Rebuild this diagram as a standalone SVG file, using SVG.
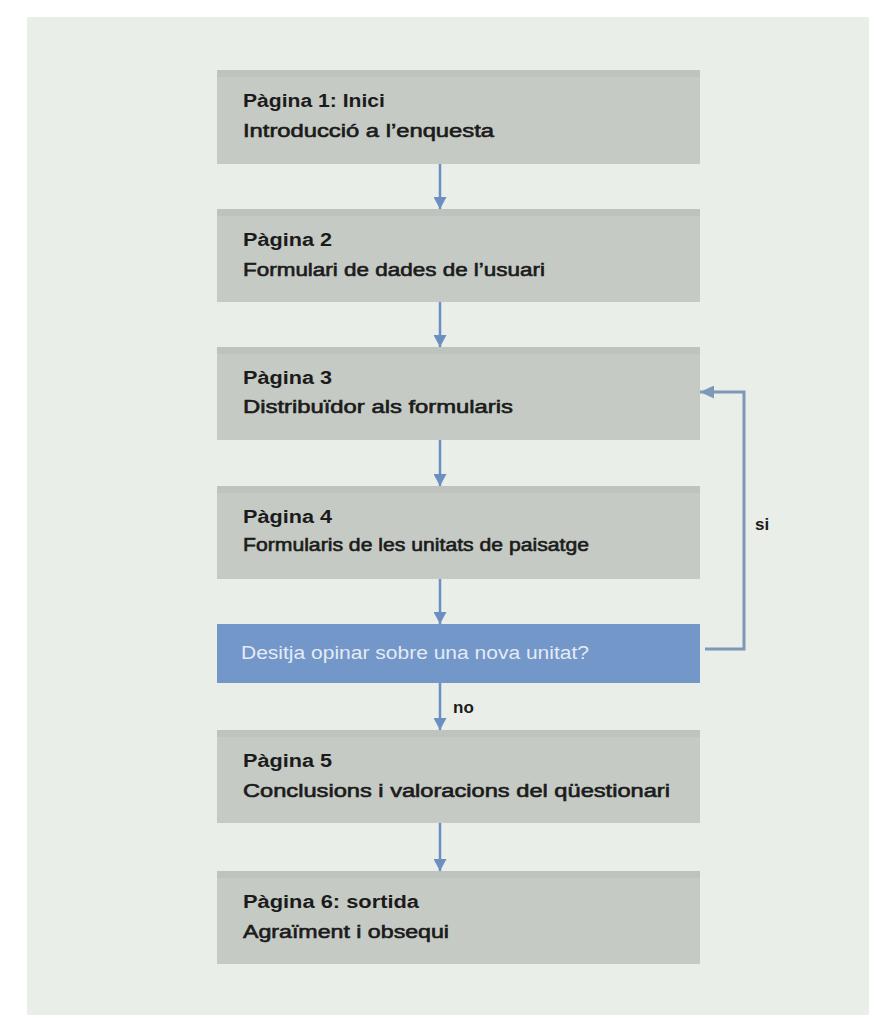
<svg xmlns="http://www.w3.org/2000/svg" width="869" height="1015" viewBox="0 0 869 1015">
  <style>
    .box { fill: #c5cac4; }
    .band { fill: #bec3bd; }
    .qbox { fill: #7297c8; }
    .t { font-family: "Liberation Sans", Arial, sans-serif; font-size: 18px; font-weight: 700; fill: #1b1b1b; }
    .b { font-family: "Liberation Sans", Arial, sans-serif; font-size: 18px; font-weight: 400; fill: #1b1b1b; stroke: #1b1b1b; stroke-width: 0.6; }
    .q { font-family: "Liberation Sans", Arial, sans-serif; font-size: 18px; font-weight: 400; fill: #e4ebf5; }
    .lbl { font-family: "Liberation Sans", Arial, sans-serif; font-size: 17px; font-weight: 700; fill: #1b1b1b; }
    .arr { stroke: #6b8fc1; stroke-width: 2.5; fill: none; }
    .loop { stroke: #7d98b8; stroke-width: 3; fill: none; }
  </style>
  <defs>
    <marker id="ah" markerUnits="userSpaceOnUse" markerWidth="12" markerHeight="13" viewBox="0 0 12 13" refX="12" refY="6.5" orient="auto">
      <path d="M0,0 L12,6.5 L0,13 z" fill="#6b8fc1"/>
    </marker>
    <marker id="ah2" markerUnits="userSpaceOnUse" markerWidth="14" markerHeight="13" viewBox="0 0 14 13" refX="14" refY="6.5" orient="auto">
      <path d="M0,0 L14,6.5 L0,13 z" fill="#7d98b8"/>
    </marker>
  </defs>

  <rect x="0" y="0" width="869" height="1015" fill="#ffffff"/>
  <rect x="27" y="17" width="842" height="998" fill="#e9eee9"/>

  <g id="connectors">
    <line class="arr" x1="440" y1="164" x2="440" y2="209" marker-end="url(#ah)"/>
    <line class="arr" x1="440" y1="302" x2="440" y2="347" marker-end="url(#ah)"/>
    <line class="arr" x1="440" y1="440" x2="440" y2="486" marker-end="url(#ah)"/>
    <line class="arr" x1="440" y1="579" x2="440" y2="624" marker-end="url(#ah)"/>
    <line class="arr" x1="440" y1="683" x2="440" y2="730" marker-end="url(#ah)"/>
    <line class="arr" x1="440" y1="823" x2="440" y2="871" marker-end="url(#ah)"/>
    <path class="loop" d="M705,649 H744 V392 H700" marker-end="url(#ah2)"/>
    <text class="lbl" x="453" y="713">no</text>
    <text class="lbl" x="755" y="530">si</text>
  </g>

  <g id="p1">
    <rect class="box" x="217" y="70" width="483" height="94"/>
    <rect class="band" x="217" y="70" width="483" height="7"/>
    <text class="t" x="243" y="107" textLength="142" lengthAdjust="spacingAndGlyphs">Pàgina 1: Inici</text>
    <text class="b" x="243" y="137" textLength="251" lengthAdjust="spacingAndGlyphs">Introducció a l’enquesta</text>
  </g>
  <g id="p2">
    <rect class="box" x="217" y="209" width="483" height="93"/>
    <rect class="band" x="217" y="209" width="483" height="7"/>
    <text class="t" x="243" y="246" textLength="89" lengthAdjust="spacingAndGlyphs">Pàgina 2</text>
    <text class="b" x="243" y="276" textLength="302" lengthAdjust="spacingAndGlyphs">Formulari de dades de l’usuari</text>
  </g>
  <g id="p3">
    <rect class="box" x="217" y="347" width="483" height="93"/>
    <rect class="band" x="217" y="347" width="483" height="7"/>
    <text class="t" x="243" y="384" textLength="89" lengthAdjust="spacingAndGlyphs">Pàgina 3</text>
    <text class="b" x="243" y="413" textLength="270" lengthAdjust="spacingAndGlyphs">Distribuïdor als formularis</text>
  </g>
  <g id="p4">
    <rect class="box" x="217" y="486" width="483" height="93"/>
    <rect class="band" x="217" y="486" width="483" height="7"/>
    <text class="t" x="243" y="523" textLength="89" lengthAdjust="spacingAndGlyphs">Pàgina 4</text>
    <text class="b" x="243" y="551" textLength="346" lengthAdjust="spacingAndGlyphs">Formularis de les unitats de paisatge</text>
  </g>
  <g id="question">
    <rect class="qbox" x="217" y="624" width="483" height="59"/>
    <text class="q" x="241" y="659" textLength="348" lengthAdjust="spacingAndGlyphs">Desitja opinar sobre una nova unitat?</text>
  </g>
  <g id="p5">
    <rect class="box" x="217" y="730" width="483" height="93"/>
    <rect class="band" x="217" y="730" width="483" height="7"/>
    <text class="t" x="243" y="767" textLength="89" lengthAdjust="spacingAndGlyphs">Pàgina 5</text>
    <text class="b" x="243" y="797" textLength="427" lengthAdjust="spacingAndGlyphs">Conclusions i valoracions del qüestionari</text>
  </g>
  <g id="p6">
    <rect class="box" x="217" y="871" width="483" height="93"/>
    <rect class="band" x="217" y="871" width="483" height="7"/>
    <text class="t" x="243" y="908" textLength="176" lengthAdjust="spacingAndGlyphs">Pàgina 6: sortida</text>
    <text class="b" x="243" y="938" textLength="206" lengthAdjust="spacingAndGlyphs">Agraïment i obsequi</text>
  </g>
</svg>
